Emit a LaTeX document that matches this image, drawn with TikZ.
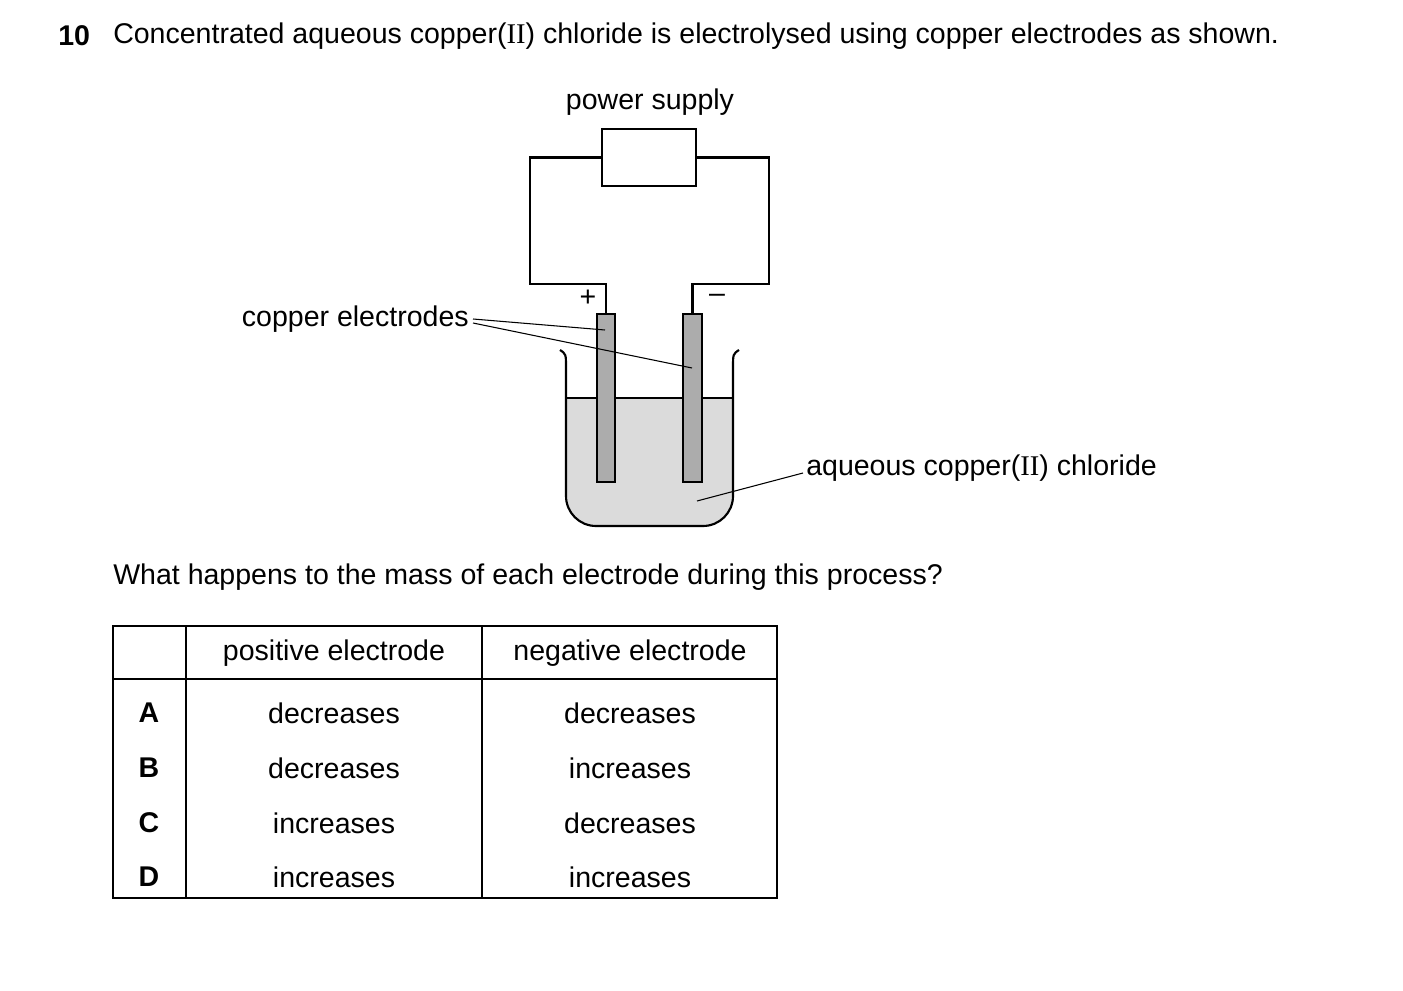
\documentclass[tikz,border=0pt]{standalone}
\usepackage{fontspec}
\setmainfont{Liberation Sans}
\newfontfamily\rom{Liberation Serif}
\newcommand{\II}{{\rom II}}
\begin{document}
\begin{tikzpicture}[x=0.75pt,y=-0.75pt,
  txt/.style={inner sep=0pt,font=\fontsize{21.4}{25}\selectfont},
  wire/.style={line width=1.6pt},
  thin/.style={line width=0.8pt}]
\useasboundingbox (0,0) rectangle (1403,991);
\node[txt,anchor=west,font=\fontsize{21.4}{25}\selectfont\bfseries] (num) at (58,36) {10};
\node[txt,anchor=west] (q) at (113,36) {Concentrated aqueous copper(\II) chloride is electrolysed using copper electrodes as shown.};
\node[txt] (ps) at (650,102) {power supply};
\node[draw,wire,minimum width=70.5pt,minimum height=42.75pt,inner sep=0pt] (box) at (649,157.5) {};
% liquid
\fill[gray!28,rounded corners=22.5pt] (566,398) -- (566,526) -- (733,526) [sharp corners] -- (733,398) -- cycle;
\draw[thin] (566,398) -- (733,398);
% beaker
\draw[wire] (560,350) .. controls (566,354) .. (566,368) [rounded corners=22.5pt] -- (566,526) -- (733,526) [sharp corners] -- (733,368) .. controls (733,354) .. (739,350);
% electrodes
\node[draw,wire,fill=gray!65,minimum width=13.5pt,minimum height=126pt,inner sep=0pt,anchor=north] (ep) at (606,313) {};
\node[draw,wire,fill=gray!65,minimum width=14pt,minimum height=126pt,inner sep=0pt,anchor=north] (en) at (692.5,313) {};
\draw[wire] (box.west) -- (530,157.5) -- (530,284) -- (606,284) -- (ep.north);
\draw[wire] (box.east) -- (769,157.5) -- (769,284) -- (692.5,284) -- (en.north);
\node[txt] (plus) at (588,298) {+};
\node[txt] (minus) at (717,298) {--};
\node[txt,anchor=east] (ce) at (469,319) {copper electrodes};
\coordinate (c1) at (605,330);
\coordinate (c2) at (692,368);
\draw[thin] (ce.east) ++(4,0) -- (c1);
\draw[thin] (ce.east) ++(4,4) -- (c2);
\node[txt,anchor=west] (ac) at (806,468) {aqueous copper(\II) chloride};
\coordinate (c3) at (697,501);
\draw[thin] (ac.west) ++(-3,5) -- (c3);
\node[txt,anchor=west] (w) at (113,577) {What happens to the mass of each electrode during this process?};
% table
\draw[thin] (113,626) rectangle (777,898);
\draw[thin] (113,679) -- (777,679);
\draw[thin] (186,626) -- (186,898);
\draw[thin] (482,626) -- (482,898);
\node[txt] (h1) at (334,653) {positive electrode};
\node[txt] (h2) at (630,653) {negative electrode};
\foreach \l/\a/\b/\y in {A/decreases/decreases/713,B/decreases/increases/768,C/increases/decreases/823,D/increases/increases/877}{
  \node[txt,font=\fontsize{21.4}{25}\selectfont\bfseries] (l\l) at (149,\y) {\l};
  \node[txt] (p\l) at (334,\y) {\a};
  \node[txt] (n\l) at (630,\y) {\b};
}
\end{tikzpicture}
\end{document}
